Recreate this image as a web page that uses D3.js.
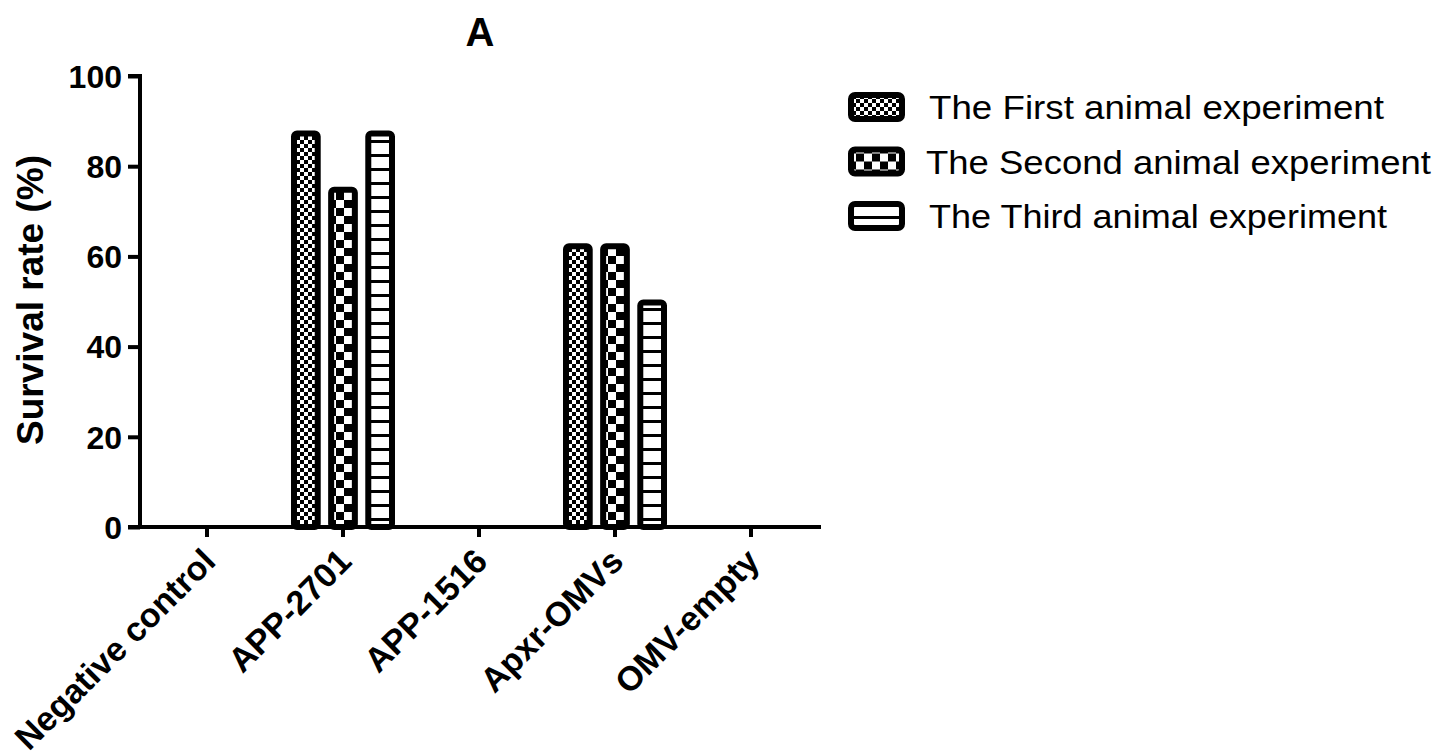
<!DOCTYPE html>
<html>
<head>
<meta charset="utf-8">
<script src="https://cdn.jsdelivr.net/npm/d3@7"></script>
<style>
  body { margin: 0; background: #fff; }
  text { font-family: "Liberation Sans", Arial, sans-serif; fill: #000; }
</style>
</head>
<body>
<svg width="1450" height="756"></svg>
<script>
// data
var categories = ["Negative control", "APP-2701", "APP-1516", "Apxr-OMVs", "OMV-empty"];
var series = ["The First animal experiment", "The Second animal experiment", "The Third animal experiment"];
var first  = [0, 87.5, 0, 62.5, 0];
var second = [0, 75,   0, 62.5, 0];
var third  = [0, 87.5, 0, 50,   0];
var yTicks = [0, 20, 40, 60, 80, 100];
var legendWidths = [455, 505, 458];

var values = [first, second, third];
var patIds = ["pat1", "pat2", "pat3"];

var svg = d3.select("svg");

// fill patterns
var defs = svg.append("defs");
var p1 = defs.append("pattern").attr("id", "pat1").attr("patternUnits", "userSpaceOnUse")
  .attr("width", 8).attr("height", 8);
p1.append("rect").attr("width", 8).attr("height", 8).attr("fill", "#fff");
p1.append("rect").attr("width", 4).attr("height", 4).attr("fill", "#000");
p1.append("rect").attr("x", 4).attr("y", 4).attr("width", 4).attr("height", 4).attr("fill", "#000");

var p2 = defs.append("pattern").attr("id", "pat2").attr("patternUnits", "userSpaceOnUse")
  .attr("width", 16).attr("height", 16);
p2.append("rect").attr("width", 16).attr("height", 16).attr("fill", "#fff");
p2.append("rect").attr("width", 8).attr("height", 8).attr("fill", "#000");
p2.append("rect").attr("x", 8).attr("y", 8).attr("width", 8).attr("height", 8).attr("fill", "#000");

var p3 = defs.append("pattern").attr("id", "pat3").attr("patternUnits", "userSpaceOnUse")
  .attr("width", 10).attr("height", 14);
p3.append("rect").attr("width", 10).attr("height", 14).attr("fill", "#fff");
p3.append("rect").attr("y", 0).attr("width", 10).attr("height", 3).attr("fill", "#000");

// scales
var y = d3.scaleLinear().domain([0, 100]).range([527, 76]);
var x0 = d3.scaleBand().domain(categories).range([139, 819]);
var x1 = d3.scaleBand().domain(series).range([0, 104]).paddingInner(0.2);
var groupOff = (x0.bandwidth() - 104) / 2;

// bars
var sw = 6;
series.forEach(function(s, si) {
  svg.append("g").selectAll("rect")
    .data(values[si].map(function(v, i) { return {cat: categories[i], v: v}; }).filter(function(d) { return d.v > 0; }))
    .join("rect")
    .attr("x", d => x0(d.cat) + groupOff + x1(s) + sw / 2)
    .attr("y", d => y(d.v) + sw / 2 - 2)
    .attr("width", x1.bandwidth() - sw)
    .attr("height", d => y(0) - y(d.v) - sw / 2 + 2)
    .attr("rx", 3)
    .attr("fill", "url(#" + patIds[si] + ")")
    .attr("stroke", "#000")
    .attr("stroke-width", sw);
});

// y axis
var yAxis = svg.append("g").attr("transform", "translate(140,0)")
  .call(d3.axisLeft(y).tickValues(yTicks).tickSize(12).tickPadding(6));
yAxis.select(".domain").attr("stroke-width", 4).attr("d", "M-12," + y(100) + "H0V" + y(0) + "H-12");
yAxis.selectAll(".tick line").attr("stroke-width", 4);
yAxis.selectAll(".tick text").style("font-size", "32px").style("font-weight", "bold")
  .attr("dy", "0.35em");

// x axis
var xAxis = svg.append("g").attr("transform", "translate(0," + y(0) + ")")
  .call(d3.axisBottom(x0).tickSize(10).tickPadding(10));
xAxis.select(".domain").attr("stroke-width", 4).attr("d", "M138,0H821");
xAxis.selectAll(".tick line").attr("stroke-width", 4);
xAxis.selectAll(".tick text")
  .style("font-size", "34px").style("font-weight", "bold")
  .attr("text-anchor", "end")
  .attr("dy", "0.35em")
  .attr("transform", "translate(2,28) rotate(-45)")
  .attr("y", 0).attr("x", 0);

// titles
svg.append("text").attr("x", 480).attr("y", 46).attr("text-anchor", "middle")
  .style("font-size", "40px").style("font-weight", "bold").text("A");
svg.append("text").attr("transform", "translate(43,300) rotate(-90)").attr("text-anchor", "middle")
  .style("font-size", "37px").style("font-weight", "bold").text("Survival rate (%)");

// legend
var legend = svg.append("g").selectAll("g").data(series).join("g")
  .attr("transform", (d, i) => "translate(848," + (107 + i * 54.5) + ")");
legend.append("rect")
  .attr("x", 3).attr("y", -12).attr("width", 51).attr("height", 24).attr("rx", 4)
  .attr("fill", (d, i) => "url(#" + patIds[i] + ")")
  .attr("stroke", "#000").attr("stroke-width", 6);
legend.append("text").attr("x", (d, i) => i === 1 ? 78 : 81).attr("dy", "0.36em")
  .attr("textLength", (d, i) => legendWidths[i]).attr("lengthAdjust", "spacingAndGlyphs")
  .style("font-size", "34px").text(d => d);
</script>
</body>
</html>
